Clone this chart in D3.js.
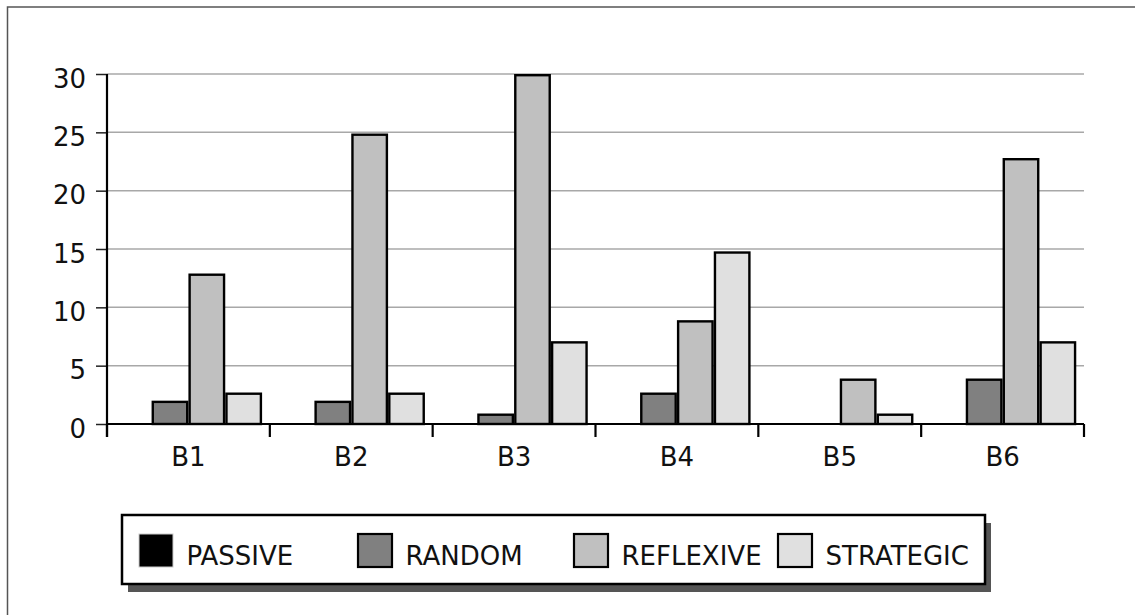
<!DOCTYPE html>
<html>
<head>
<meta charset="utf-8">
<script src="https://cdn.jsdelivr.net/npm/d3@7"></script>
<style>
  html, body { margin: 0; padding: 0; background: #fff; }
  svg { display: block; }
</style>
</head>
<body>
<svg id="chart" width="1135" height="615"></svg>
<script>
// Category labels along the x axis
const categories = ["B1", "B2", "B3", "B4", "B5", "B6"];
// Series names (legend order)
const seriesNames = ["PASSIVE", "RANDOM", "REFLEXIVE", "STRATEGIC"];
// Values per category, one array per series
const passive   = [0, 0, 0, 0, 0, 0];
const random    = [2.0, 2.0, 0.9, 2.7, 0, 3.9];
const reflexive = [12.9, 24.9, 30, 8.9, 3.9, 22.8];
const strategic = [2.7, 2.7, 7.1, 14.8, 0.9, 7.1];
// Y axis tick values
const yTicks = [0, 5, 10, 15, 20, 25, 30];

const seriesValues = [passive, random, reflexive, strategic];
const seriesColors = ["#000000", "#808080", "#c0c0c0", "#e0e0e0"];

const svg = d3.select("#chart");
const W = 1135, H = 615;

// Plot geometry
const plot = { left: 107, right: 1084, top: 74, bottom: 424 };
const axisFont = "'DejaVu Sans', sans-serif";
const legendFont = "'DejaVu Sans', sans-serif";
const barStroke = 2.4;

svg.append("rect").attr("width", W).attr("height", H).attr("fill", "#fff");

// Figure frame (runs off the right and bottom edges)
svg.append("rect")
  .attr("x", 7.5).attr("y", 7)
  .attr("width", W + 20).attr("height", H + 20)
  .attr("fill", "none")
  .attr("stroke", "#555")
  .attr("stroke-width", 1.5);

const x0 = d3.scaleBand()
  .domain(categories)
  .range([plot.left, plot.right])
  .paddingInner(0).paddingOuter(0);

const x1 = d3.scaleBand()
  .domain(seriesNames)
  .range([0, x0.bandwidth()])
  .paddingInner(0)
  .paddingOuter(0.21);

const y = d3.scaleLinear()
  .domain([0, 30])
  .range([plot.bottom, plot.top]);

// Horizontal gridlines
svg.append("g")
  .selectAll("line")
  .data(yTicks.filter(t => t > 0))
  .join("line")
  .attr("x1", plot.left).attr("x2", plot.right)
  .attr("y1", d => y(d)).attr("y2", d => y(d))
  .attr("stroke", "#a8a8a8")
  .attr("stroke-width", 1.5);

// Y axis
const yAxis = d3.axisLeft(y)
  .tickValues(yTicks)
  .tickSize(11)
  .tickPadding(10)
  .tickFormat(d3.format("d"));

const gy = svg.append("g")
  .attr("transform", `translate(${plot.left},0)`)
  .call(yAxis);
gy.select(".domain").remove();
gy.selectAll(".tick line").attr("stroke", "#222").attr("stroke-width", 1.5);
gy.selectAll(".tick text")
  .attr("font-family", axisFont)
  .attr("font-size", 26)
  .attr("fill", "#111")
  .attr("dy", "0.5em");

// Y axis line, extending down to the tick depth below the baseline
svg.append("line")
  .attr("x1", plot.left).attr("x2", plot.left)
  .attr("y1", plot.top).attr("y2", plot.bottom + 13)
  .attr("stroke", "#000").attr("stroke-width", 2.2);

// Bars
const groups = svg.append("g")
  .selectAll("g")
  .data(categories)
  .join("g")
  .attr("transform", d => `translate(${x0(d)},0)`);

groups.selectAll("rect")
  .data((cat, ci) => seriesNames.map((s, si) => ({ s, si, v: seriesValues[si][ci] })))
  .join("rect")
  .attr("x", d => x1(d.s) + barStroke / 2)
  .attr("width", x1.bandwidth() - barStroke)
  .attr("y", d => y(d.v) + barStroke / 2)
  .attr("height", d => Math.max(0, y(0) - y(d.v) - barStroke / 2))
  .attr("fill", d => seriesColors[d.si])
  .attr("stroke", "#000")
  .attr("stroke-width", barStroke);

// X axis baseline and category boundary ticks
svg.append("line")
  .attr("x1", plot.left).attr("x2", plot.right)
  .attr("y1", y(0)).attr("y2", y(0))
  .attr("stroke", "#000").attr("stroke-width", 2.2);

const boundaries = categories.map(c => x0(c)).concat([plot.right]);
svg.append("g")
  .selectAll("line")
  .data(boundaries)
  .join("line")
  .attr("x1", d => d).attr("x2", d => d)
  .attr("y1", y(0)).attr("y2", y(0) + 13)
  .attr("stroke", "#000").attr("stroke-width", 2.2);

// Category labels
svg.append("g")
  .selectAll("text")
  .data(categories)
  .join("text")
  .attr("x", d => x0(d) + x0.bandwidth() / 2)
  .attr("y", 466)
  .attr("text-anchor", "middle")
  .attr("font-family", axisFont)
  .attr("font-size", 26)
  .attr("fill", "#111")
  .text(d => d);

// Legend box with drop shadow
const legend = { x: 122, y: 515, w: 863, h: 69 };
svg.append("rect")
  .attr("x", legend.x + 6).attr("y", legend.y + 8)
  .attr("width", legend.w).attr("height", legend.h)
  .attr("fill", "#555");
svg.append("rect")
  .attr("x", legend.x).attr("y", legend.y)
  .attr("width", legend.w).attr("height", legend.h)
  .attr("fill", "#fff")
  .attr("stroke", "#000")
  .attr("stroke-width", 2.5);

const legendItemX = [138, 357, 573, 777];
const items = svg.append("g")
  .selectAll("g")
  .data(seriesNames)
  .join("g")
  .attr("transform", (d, i) => `translate(${legendItemX[i]},${legend.y + 18})`);

items.append("rect")
  .attr("x", 1).attr("y", 1)
  .attr("width", 34).attr("height", 33)
  .attr("fill", (d, i) => seriesColors[i])
  .attr("stroke", (d, i) => i === 0 ? "#ccc" : "#000")
  .attr("stroke-width", (d, i) => i === 0 ? 1 : 2.2);

items.append("text")
  .attr("x", 48.5)
  .attr("y", 32)
  .attr("font-family", legendFont)
  .attr("font-size", 26)
  .attr("fill", "#111")
  .text(d => d);
</script>
</body>
</html>
